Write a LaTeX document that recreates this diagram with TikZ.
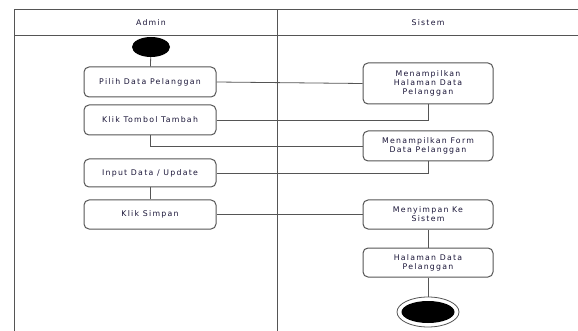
\documentclass[tikz,border=0pt]{standalone}
\usepackage{fontspec}
\newfontfamily\umlfont{DejaVu Sans}[LetterSpace=16]
\usetikzlibrary{shapes.geometric}
\definecolor{linegray}{RGB}{85,85,85}
\definecolor{textnavy}{RGB}{25,20,55}
\tikzset{
  act/.style={draw=linegray, line width=1pt, rounded corners=5pt, minimum width=132pt,
    minimum height=30pt, inner sep=1pt, align=center, text=textnavy,
    font=\umlfont\fontsize{7.8}{9}\selectfont},
  lanetext/.style={text=textnavy, font=\umlfont\fontsize{7.8}{9}\selectfont},
  flow/.style={draw=linegray, line width=0.8pt},
  lane/.style={draw=linegray, line width=1pt},
  startdot/.style={ellipse, fill=black, minimum width=38pt, minimum height=20pt, inner sep=0pt},
  endring/.style={ellipse, draw=linegray, line width=0.8pt, fill=white, minimum width=62pt, minimum height=30pt, inner sep=0pt},
  enddot/.style={ellipse, fill=black, minimum width=53pt, minimum height=22pt, inner sep=0pt},
}

\begin{document}
\begin{tikzpicture}[x=1pt,y=-1pt]
  \useasboundingbox (0,0) rectangle (578,331);
  %%%%% SWIMLANES %%%%%
  \draw[lane] (578,10) -- (14,10) -- (14,331);
  \draw[lane] (14,36) -- (578,36);
  \draw[lane] (277,10) -- (277,331);
  \node[lanetext] (admin) at (151,23) {Admin};
  \node[lanetext] (sistem) at (428,23) {Sistem};

  %%%%% ADMIN %%%%%
  \node[startdot] (start) at (151,47) {};
  \node[act] (pilih) at (150,82) {Pilih Data Pelanggan};
  \node[act] (tambah) at (150,120) {Klik Tombol Tambah};
  \node[act, minimum height=28pt] (input) at (150,173) {Input Data / Update};
  \node[act, minimum height=29pt] (klik) at (150,214.5) {Klik Simpan};

  %%%%% SISTEM %%%%%
  \node[act, minimum width=130pt, minimum height=41pt] (halaman) at (428,83.5) {Menampilkan\\Halaman Data\\Pelanggan};
  \node[act, minimum width=130pt] (form) at (428,146) {Menampilkan Form\\Data Pelanggan};
  \node[act, minimum width=130pt, minimum height=29pt] (simpan) at (428,214.5) {Menyimpan Ke\\Sistem};
  \node[act, minimum width=130pt, minimum height=29pt] (hasil) at (428,262.5) {Halaman Data\\Pelanggan};
  \node[endring] (stop) at (428,312) {};
  \node[enddot] (stopcore) at (stop) {};

  %%%%% FLOW %%%%%
  \draw[flow] (start) -- (pilih);
  \draw[flow] (pilih.east) -- (halaman.west);
  \draw[flow] (tambah.east) -| (halaman.south);
  \draw[flow] (tambah.south) |- (form.west);
  \draw[flow] (form.south) |- (input.east);
  \draw[flow] (input) -- (klik);
  \draw[flow] (klik.east) -- (simpan.west);
  \draw[flow] (simpan) -- (hasil);
  \draw[flow] (hasil) -- (stop);
\end{tikzpicture}
\end{document}
